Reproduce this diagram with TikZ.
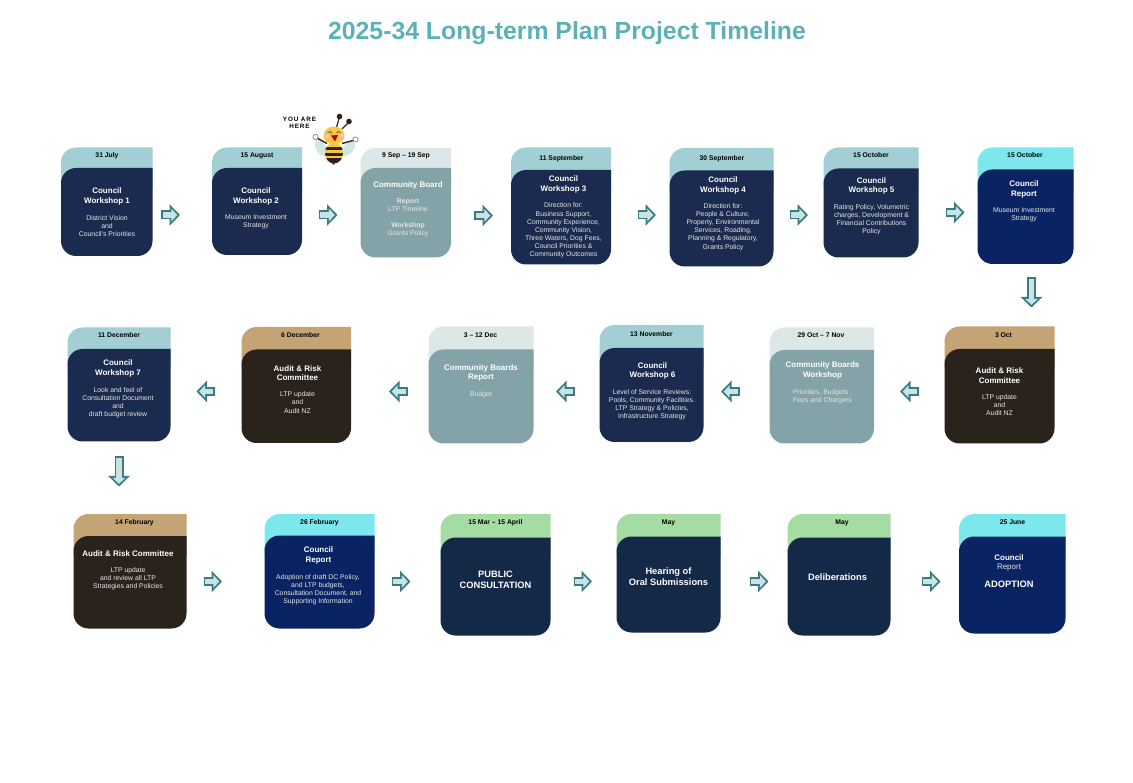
\documentclass[tikz,border=0pt]{standalone}
\usepackage{fontspec}
\setmainfont{Liberation Sans}
\usetikzlibrary{arrows.meta,fit}
\definecolor{wstab}{HTML}{A1CFD4}
\definecolor{wsbody}{HTML}{1A2B4F}
\definecolor{cbtab}{HTML}{DEE7E8}
\definecolor{cbbody}{HTML}{84A3A8}
\definecolor{rptab}{HTML}{7DE7EE}
\definecolor{rpbody}{HTML}{0A2463}
\definecolor{ragtab}{HTML}{C4A375}
\definecolor{ragbody}{HTML}{2A231C}
\definecolor{pubtab}{HTML}{A5DCA3}
\definecolor{pubbody}{HTML}{142848}
\definecolor{flowline}{HTML}{3A7B81}
\definecolor{flowfill}{HTML}{C8E3E3}
\definecolor{headline}{HTML}{5CB0B8}
\definecolor{beedark}{HTML}{33201C}
\definecolor{beeyellow}{HTML}{F5C842}
\definecolor{beewing}{HTML}{CFE6E2}
\tikzset{
    carddate/.style={font=\fontsize{6.8}{8}\selectfont\bfseries, text=black, inner sep=0pt},
    cardtitle/.style={font=\fontsize{8}{9.5}\selectfont\bfseries, text=white, align=center, inner sep=0pt, yshift=-1pt},
    cardbig/.style={font=\fontsize{9.3}{11.3}\selectfont\bfseries, text=white, align=center, inner sep=0pt},
    cardtext/.style={font=\fontsize{6.85}{8.1}\selectfont, text=white!90!black, align=center, inner sep=0pt, yshift=-1pt},
    flowarr/.style={draw=flowline, line width=9pt, -{Triangle[length=10.5pt,width=21pt]},
        postaction={draw=flowfill, line width=5.2pt, shorten <=1.9pt, shorten >=2.7pt,
            -{Triangle[length=5.9pt,width=12.4pt]}}}
}
\newcommand{\tabcard}[8]{
    \fill [#7] (#2, #5+20) [rounded corners=15pt] -- (#2, #4) [sharp corners] -- (#3, #4) -- (#3, #5+20) -- cycle;
    \fill [#8] (#2, #5+30) [rounded corners=15pt] -- (#2, #5) [sharp corners] -- (#3, #5) [rounded corners=15pt] -- (#3, #6) -- (#2, #6) -- cycle;
    \node [fit={(#2, #5) (#3, #6)}, inner sep=0pt] (#1) {};
}
\begin{document}
\begin{tikzpicture}[x=1pt, y=-1pt]
    \useasboundingbox (0, 0) rectangle (1133, 783);
    \node [font=\fontsize{24.8}{30}\selectfont\bfseries, text=headline, inner sep=0pt] (head) at (567, 33) {2025-34 Long-term Plan Project Timeline};

    \tabcard{c1}{61}{152.5}{147.5}{168}{256}{wstab}{wsbody}
    \node [carddate] (c1a) at (107, 156) {31 July};
    \node [cardtitle] (c1t) at (107, 195.5) {Council\\Workshop 1};
    \node [cardtext] (c1d) at (107, 225) {District Vision\\and\\Council's Priorities};

    \tabcard{c2}{212}{302}{147.5}{168}{255}{wstab}{wsbody}
    \node [carddate] (c2a) at (257, 156) {15 August};
    \node [cardtitle] (c2t) at (256, 195.5) {Council\\Workshop 2};
    \node [cardtext] (c2d) at (256, 221) {Museum Investment\\Strategy};

    \tabcard{c3}{360.5}{451}{148}{168}{257.5}{cbtab}{cbbody}
    \node [carddate] (c3a) at (406, 156) {9 Sep -- 19 Sep};
    \node [cardtitle] (c3t) at (408, 184.5) {Community Board};
    \node [cardtext] (c3d) at (408, 217) {\textbf{Report}\\LTP Timeline\\[8.1pt]\textbf{Workshop}\\Grants Policy};

    \tabcard{c4}{511}{611}{147.5}{170}{264.5}{wstab}{wsbody}
    \node [carddate] (c4a) at (561.5, 158.5) {11 September};
    \node [cardtitle] (c4t) at (563.5, 183.5) {Council\\Workshop 3};
    \node [cardtext] (c4d) at (563.5, 229.5) {Direction for:\\Business Support,\\Community Experience,\\Community Vision,\\Three Waters, Dog Fees,\\Council Priorities \&\\Community Outcomes};

    \tabcard{c5}{669.5}{773.5}{148}{170.5}{266.5}{wstab}{wsbody}
    \node [carddate] (c5a) at (722, 158.5) {30 September};
    \node [cardtitle] (c5t) at (723, 184.5) {Council\\Workshop 4};
    \node [cardtext] (c5d) at (723, 226) {Direction for:\\People \& Culture,\\Property, Environmental\\Services, Roading,\\Planning \&  Regulatory,\\Grants Policy};

    \tabcard{c6}{823.5}{918.5}{147.5}{168.5}{257.5}{wstab}{wsbody}
    \node [carddate] (c6a) at (871, 155.5) {15 October};
    \node [cardtitle] (c6t) at (871.5, 185) {Council\\Workshop 5};
    \node [cardtext] (c6d) at (871.5, 218.5) {Rating Policy, Volumetric\\charges, Development \&\\Financial Contributions\\Policy};

    \tabcard{c7}{977.5}{1073.5}{147.5}{169.5}{264}{rptab}{rpbody}
    \node [carddate] (c7a) at (1025, 155.5) {15 October};
    \node [cardtitle] (c7t) at (1024, 188.5) {Council\\Report};
    \node [cardtext] (c7d) at (1024, 214) {Museum Investment\\Strategy};

    \tabcard{c8}{944.5}{1054.5}{326.5}{349}{443.5}{ragtab}{ragbody}
    \node [carddate] (c8a) at (1003.5, 335) {3 Oct};
    \node [cardtitle] (c8t) at (999.5, 374.5) {Audit \& Risk\\Committee};
    \node [cardtext] (c8d) at (999.5, 404) {LTP update\\and\\Audit NZ};

    \tabcard{c9}{769.5}{874}{327.5}{350}{443.5}{cbtab}{cbbody}
    \node [carddate] (c9a) at (821, 335) {29 Oct -- 7 Nov};
    \node [cardtitle] (c9t) at (822.5, 369.5) {Community Boards\\Workshop};
    \node [cardtext] (c9d) at (822.5, 395.5) {Priorities, Budgets ,\\Fees and Chargers};

    \tabcard{c10}{599.5}{703.5}{325}{348}{442}{wstab}{wsbody}
    \node [carddate] (c10a) at (651.5, 334) {13 November};
    \node [cardtitle] (c10t) at (652.5, 370) {Council\\Workshop 6};
    \node [cardtext] (c10d) at (652, 403.5) {Level of Service Reviews:\\Pools, Community Facilities.\\LTP Strategy \& Policies,\\Infrastructure Strategy};

    \tabcard{c11}{428.5}{533.5}{326.5}{349.5}{443.5}{cbtab}{cbbody}
    \node [carddate] (c11a) at (480.5, 335) {3 -- 12 Dec};
    \node [cardtitle] (c11t) at (481, 372) {Community Boards\\Report};
    \node [cardtext] (c11d) at (481, 393.5) {Budget};

    \tabcard{c12}{241.5}{351}{327}{349.5}{443}{ragtab}{ragbody}
    \node [carddate] (c12a) at (300.5, 335) {6 December};
    \node [cardtitle] (c12t) at (297.5, 372) {Audit \& Risk\\Committee};
    \node [cardtext] (c12d) at (297.5, 401.5) {LTP update\\and\\Audit NZ};

    \tabcard{c13}{67.5}{170.5}{327.5}{349}{441.5}{wstab}{wsbody}
    \node [carddate] (c13a) at (119, 335) {11 December};
    \node [cardtitle] (c13t) at (118, 367.5) {Council\\Workshop 7};
    \node [cardtext] (c13d) at (118, 401.5) {Look and feel of\\Consultation Document\\and\\draft budget review};

    \tabcard{c14}{73.5}{186.5}{514}{536}{628.5}{ragtab}{ragbody}
    \node [carddate] (c14a) at (134.5, 522.5) {14 February};
    \node [cardtitle] (c14t) at (128, 553) {Audit \& Risk Committee};
    \node [cardtext] (c14d) at (128, 577.5) {LTP update\\and review all LTP\\Strategies and Policies};

    \tabcard{c15}{264.5}{374.5}{514}{535.5}{628.5}{rptab}{rpbody}
    \node [carddate] (c15a) at (319.5, 522.5) {26 February};
    \node [cardtitle] (c15t) at (318.5, 554.5) {Council\\Report};
    \node [cardtext] (c15d) at (318, 588.5) {Adoption of draft DC Policy,\\and LTP budgets,\\Consultation Document, and\\Supporting Information};

    \tabcard{c16}{440.5}{550.5}{514}{537.5}{635.5}{pubtab}{pubbody}
    \node [carddate] (c16a) at (495.5, 522.5) {15 Mar -- 15 April};
    \node [cardbig] (c16t) at (495.5, 579.5) {PUBLIC\\CONSULTATION};

    \tabcard{c17}{616.5}{720.5}{514}{536.5}{632.5}{pubtab}{pubbody}
    \node [carddate] (c17a) at (668.5, 522.5) {May};
    \node [cardbig] (c17t) at (668.5, 577) {Hearing of\\Oral Submissions};

    \tabcard{c18}{787.5}{890.5}{514}{537.5}{635.5}{pubtab}{pubbody}
    \node [carddate] (c18a) at (842, 522.5) {May};
    \node [cardbig] (c18t) at (837.5, 577) {Deliberations};

    \tabcard{c19}{959}{1065.5}{514}{536.5}{633.5}{rptab}{rpbody}
    \node [carddate] (c19a) at (1012.5, 522.5) {25 June};
    \node [cardtitle] (c19t) at (1009, 557) {Council};
    \node [cardtext, font=\fontsize{8}{9.5}\selectfont] (c19d) at (1009, 566.5) {Report};
    \node [cardbig] (c19b) at (1009, 584.5) {ADOPTION};

    \coordinate (a1) at (161, 215); \coordinate (b1) at (180, 215);
    \coordinate (a2) at (318.5, 215); \coordinate (b2) at (337.5, 215);
    \coordinate (a3) at (474, 215.5); \coordinate (b3) at (493, 215.5);
    \coordinate (a4) at (637.5, 215); \coordinate (b4) at (656, 215);
    \coordinate (a5) at (789.5, 215); \coordinate (b5) at (808, 215);
    \coordinate (a6) at (945.5, 212.5); \coordinate (b6) at (964.5, 212.5);
    \coordinate (a7) at (1031.5, 277.5); \coordinate (b7) at (1031.5, 307.5);
    \coordinate (a8) at (919, 391.5); \coordinate (b8) at (900, 391.5);
    \coordinate (a9) at (740, 391.5); \coordinate (b9) at (721, 391.5);
    \coordinate (a10) at (574.5, 391.5); \coordinate (b10) at (556, 391.5);
    \coordinate (a11) at (407.5, 391.5); \coordinate (b11) at (389, 391.5);
    \coordinate (a12) at (215, 391.5); \coordinate (b12) at (196.5, 391.5);
    \coordinate (a13) at (119, 456.5); \coordinate (b13) at (119, 486.5);
    \coordinate (a14) at (203.5, 581.5); \coordinate (b14) at (222, 581.5);
    \coordinate (a15) at (391.5, 581.5); \coordinate (b15) at (410.5, 581.5);
    \coordinate (a16) at (573.5, 581.5); \coordinate (b16) at (592, 581.5);
    \coordinate (a17) at (749.5, 581.5); \coordinate (b17) at (768.5, 581.5);
    \coordinate (a18) at (921.5, 581.5); \coordinate (b18) at (940.5, 581.5);
    \draw [flowarr] (a1) to (b1);
    \draw [flowarr] (a2) to (b2);
    \draw [flowarr] (a3) to (b3);
    \draw [flowarr] (a4) to (b4);
    \draw [flowarr] (a5) to (b5);
    \draw [flowarr] (a6) to (b6);
    \draw [flowarr] (a7) to (b7);
    \draw [flowarr] (a8) to (b8);
    \draw [flowarr] (a9) to (b9);
    \draw [flowarr] (a10) to (b10);
    \draw [flowarr] (a11) to (b11);
    \draw [flowarr] (a12) to (b12);
    \draw [flowarr] (a13) to (b13);
    \draw [flowarr] (a14) to (b14);
    \draw [flowarr] (a15) to (b15);
    \draw [flowarr] (a16) to (b16);
    \draw [flowarr] (a17) to (b17);
    \draw [flowarr] (a18) to (b18);

    \node [font=\fontsize{6.3}{7.3}\selectfont\bfseries\addfontfeature{LetterSpace=14}, text=black, align=center, inner sep=0pt] (here) at (299.5, 122.5) {YOU ARE\\HERE};
    \fill [beewing, rotate around={-60:(321, 148)}] (321, 148) ellipse [x radius=9, y radius=5];
    \fill [beewing, rotate around={45:(348, 149)}] (348, 149) ellipse [x radius=8.5, y radius=5];
    \draw [beedark, line width=1.2pt] (336.5, 127) -- (339.5, 117);
    \draw [beedark, line width=1.2pt] (342, 129) -- (349, 122);
    \fill [beedark] (339.5, 116.5) circle (2.8);
    \fill [beedark] (349, 121.5) circle (2.8);
    \draw [beedark, line width=1.4pt] (327, 143.5) -- (316, 137.5);
    \draw [beedark, line width=1.4pt] (342, 143.5) -- (355, 140);
    \draw [black!55, fill=white, line width=0.6pt] (315.5, 137) circle (2.6);
    \draw [black!55, fill=white, line width=0.6pt] (355.5, 139.5) circle (2.6);
    \fill [beedark] (330.5, 161) -- (333.5, 165) -- (336.5, 161) -- cycle;
    \fill [beeyellow] (334, 153) ellipse [x radius=9, y radius=10.5];
    \begin{scope}
        \clip (334, 153) ellipse [x radius=9, y radius=10.5];
        \fill [beedark] (324, 147.5) rectangle (344, 150.5);
        \fill [beedark] (324, 153) rectangle (344, 156);
        \fill [beedark] (324, 158.5) rectangle (344, 164);
    \end{scope}
    \fill [beeyellow] (334, 135.5) ellipse [x radius=10.5, y radius=9];
    \fill [pink] (327, 136) ellipse [x radius=2.5, y radius=1.8];
    \fill [pink] (341.5, 135.5) ellipse [x radius=2.5, y radius=1.8];
    \draw [beedark, line width=0.5pt] (327.5, 133) -- (330, 131.5) -- (332, 133.5);
    \draw [beedark, line width=0.5pt] (336.5, 133) -- (338.5, 131.5) -- (340.5, 133);
    \fill [red!75!black] (331, 135.5) -- (338, 135) -- (335, 141.5) -- cycle;
\end{tikzpicture}
\end{document}
